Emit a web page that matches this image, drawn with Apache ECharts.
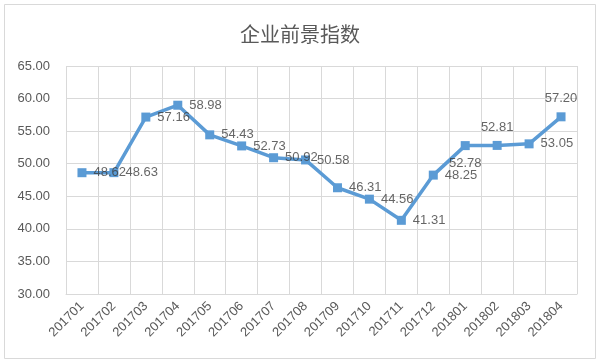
<!DOCTYPE html>
<html><head><meta charset="utf-8">
<script src="https://cdn.jsdelivr.net/npm/echarts@6/dist/echarts.min.js"></script>
<style>html,body{margin:0;padding:0;background:#fff}#c{width:600px;height:363px}</style>
</head><body><div id="c"></div>
<script>
var titleText = '企业前景指数';
var categories = ['201701','201702','201703','201704','201705','201706','201707','201708','201709','201710','201711','201712','201801','201802','201803','201804'];
var values = [48.62,48.63,57.16,58.98,54.43,52.73,50.92,50.58,46.31,44.56,41.31,48.25,52.78,52.81,53.05,57.20];
var labelPositions = ['right','right','right','right','right','right','right','right','right','right','right','right','bottom','top','right','top'];

var chart = echarts.init(document.getElementById('c'), null, {renderer:'canvas'});
var labelData = values.map(function(v,i){
  return {value:v, label:{position:labelPositions[i]}};
});
chart.setOption({
  animation:false,
  title:{text:titleText,left:'center',top:19,textStyle:{fontFamily:'Noto Sans CJK SC',fontSize:20,fontWeight:'normal',color:'#595959'}},
  graphic:[{type:'rect',shape:{x:4.5,y:4.5,width:591,height:354},style:{fill:null,stroke:'#d9d9d9',lineWidth:1},silent:true}],
  grid:{left:66,right:23,top:66,bottom:69,containLabel:false},
  xAxis:{type:'category',data:categories,boundaryGap:true,
    axisLine:{lineStyle:{color:'#d9d9d9'}},axisTick:{show:false},
    splitLine:{show:true,lineStyle:{color:'#d9d9d9',width:1}},
    axisLabel:{rotate:45,interval:0,margin:10,fontSize:13,color:'#595959',fontFamily:'Liberation Sans'}},
  yAxis:{type:'value',min:30,max:65,interval:5,
    axisLine:{show:false},axisTick:{show:false},
    splitLine:{lineStyle:{color:'#d9d9d9',width:1}},
    axisLabel:{margin:16,fontSize:13,color:'#595959',fontFamily:'Liberation Sans',formatter:function(v){return v.toFixed(2);}}},
  series:[
    {type:'line',data:values,symbol:'rect',symbolSize:9,z:2,
     lineStyle:{color:'#5B9BD5',width:3.5},itemStyle:{color:'#5B9BD5'},label:{show:false}},
    {type:'scatter',data:labelData,symbolSize:9,zlevel:1,z:5,itemStyle:{color:'rgba(0,0,0,0)'},
     label:{show:true,fontSize:13,color:'#404040',fontFamily:'Liberation Sans',distance:7,formatter:function(p){return p.value.toFixed(2);}}}
  ]
});
</script></body></html>
